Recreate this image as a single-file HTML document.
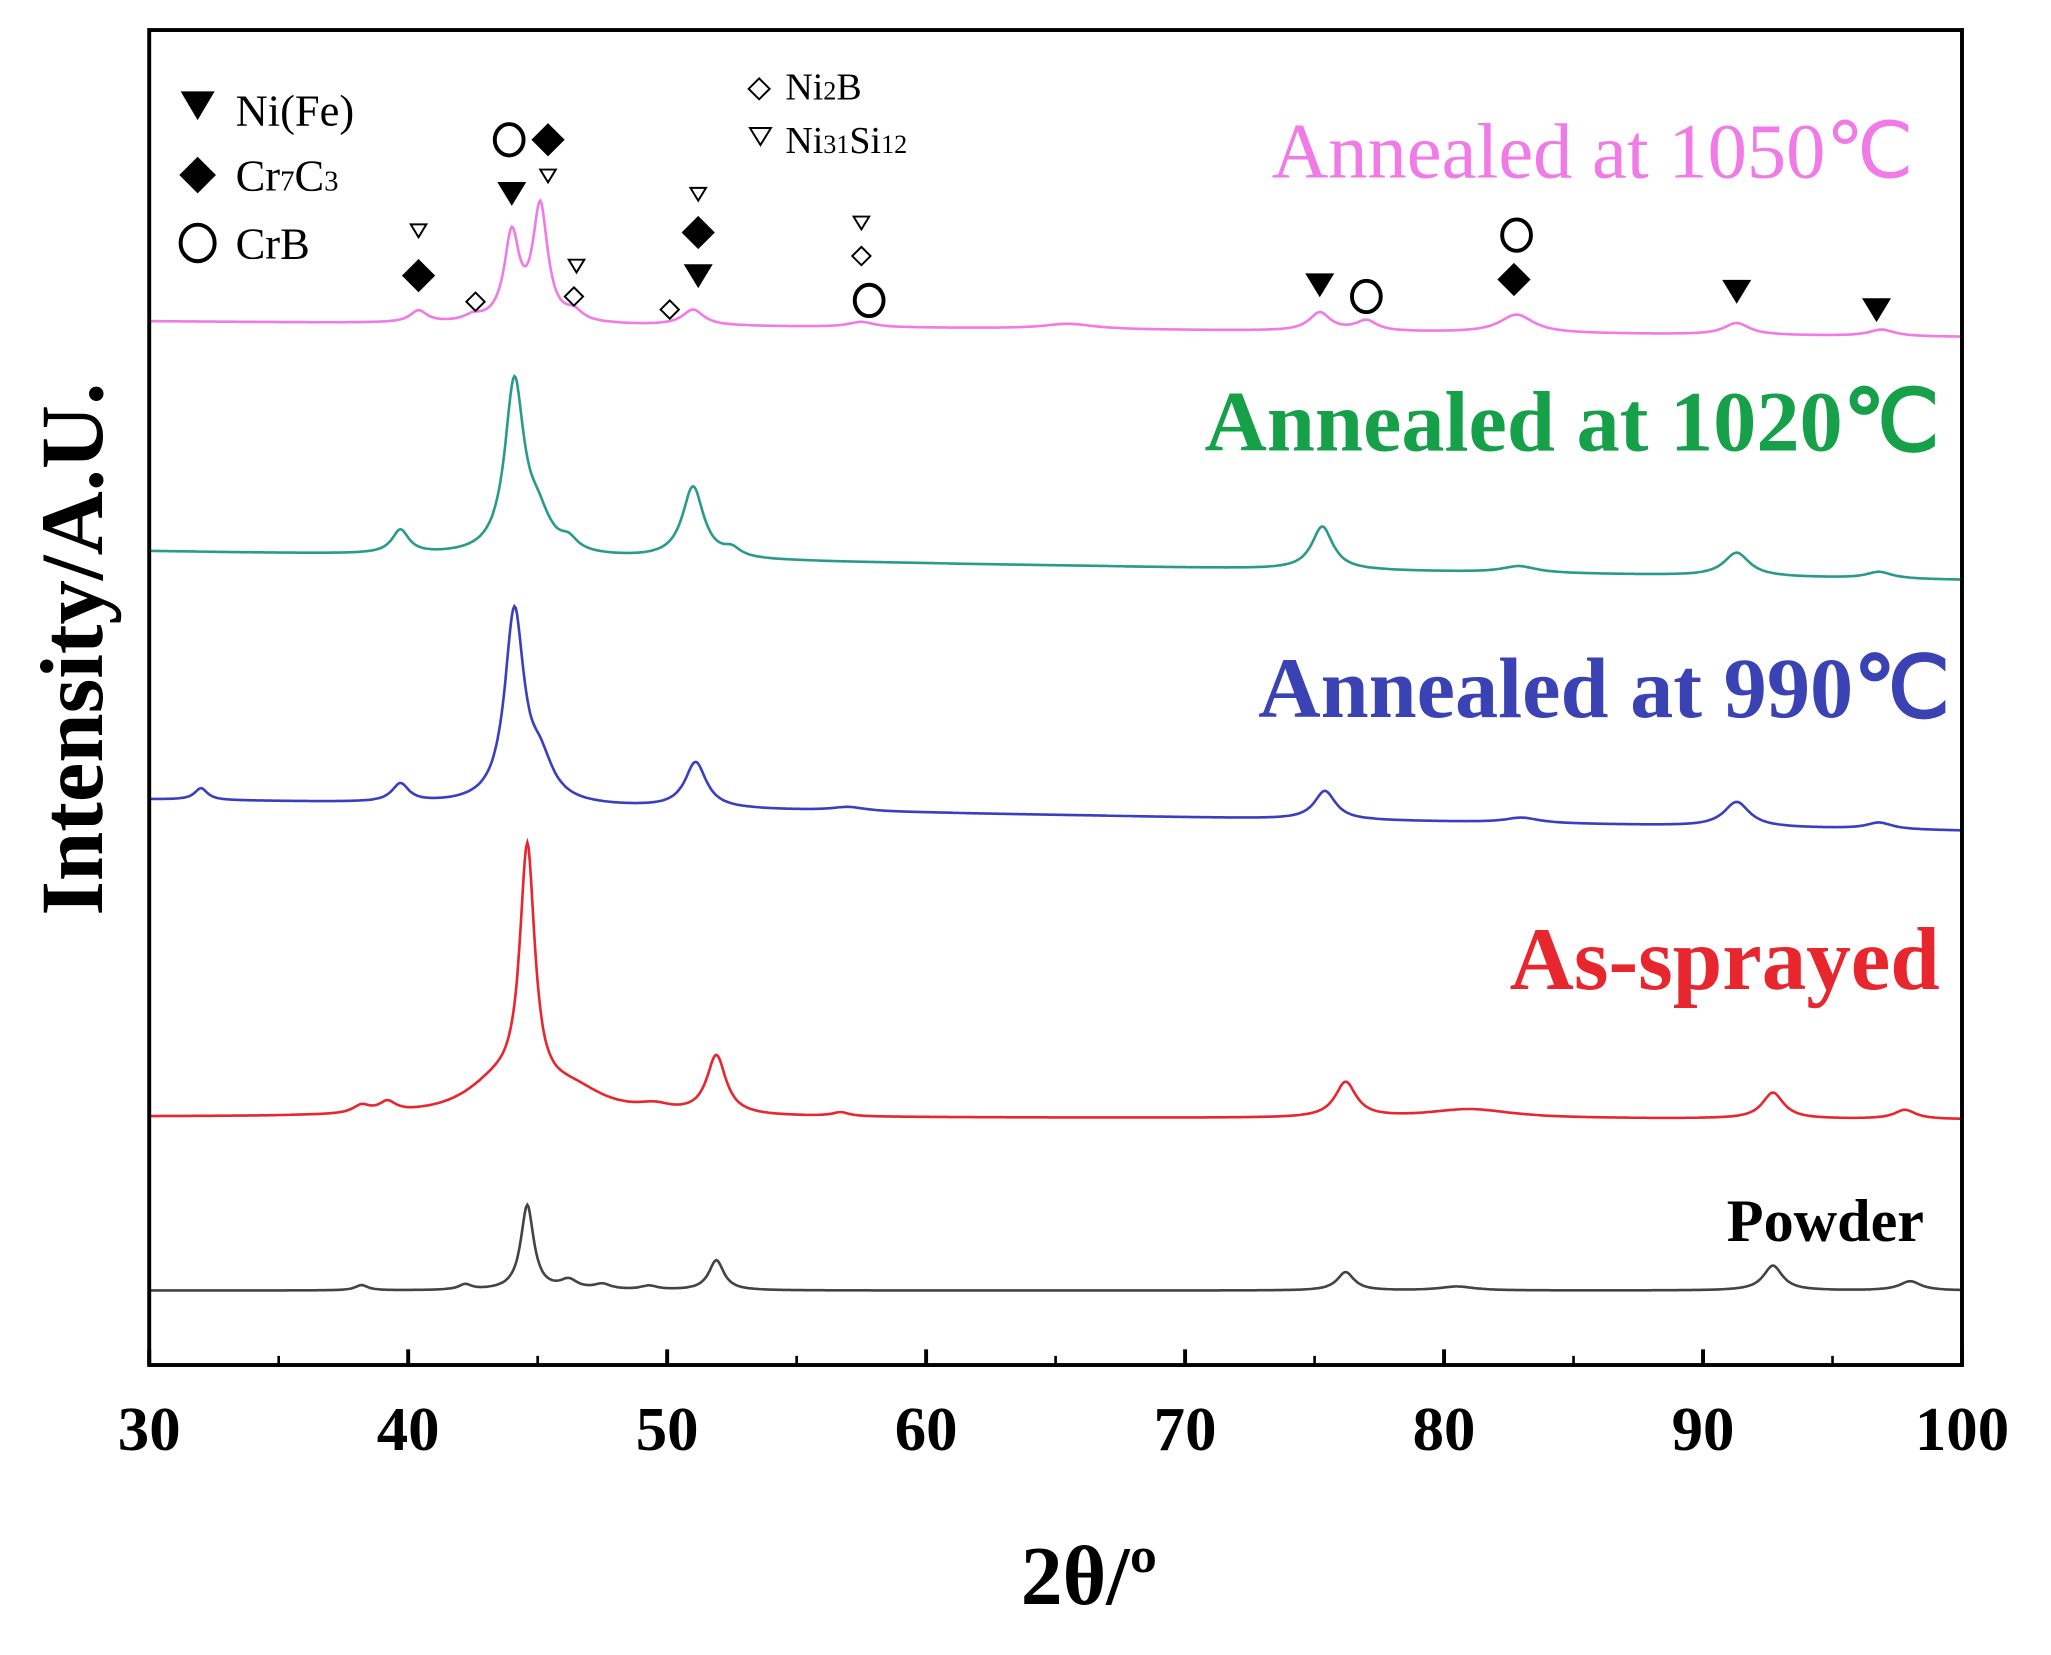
<!DOCTYPE html>
<html><head><meta charset="utf-8"><style>
html,body{margin:0;padding:0;background:#fff;}
svg{display:block;}
text{font-family:"Liberation Serif",serif;}
</style></head><body>
<svg id="chart" width="2051" height="1655" viewBox="0 0 1567 1267" preserveAspectRatio="none" xmlns="http://www.w3.org/2000/svg">
<rect width="1567" height="1267" fill="#fff"/>
<g id="series"></g>
<rect x="114" y="23" width="1385" height="1022" fill="none" stroke="#000" stroke-width="3"/>
<g id="ticks"></g>
<text transform="translate(78,497) rotate(-90)" text-anchor="middle" font-size="68" font-weight="bold">Intensity/A.U.</text>
<text x="832" y="1228" text-anchor="middle" font-size="64" font-weight="bold">2θ/º</text>

<g font-size="34">
<polygon points="138,70 164,70 151,92" fill="#000"/><text x="180" y="96">Ni(Fe)</text>
<polygon points="151,120 165,134 151,148 137,134" fill="#000"/><text x="180" y="146">Cr<tspan font-size="22">7</tspan>C<tspan font-size="22">3</tspan></text>
<ellipse cx="151" cy="186" rx="13" ry="14" fill="none" stroke="#000" stroke-width="3"/><text x="180" y="198">CrB</text>
<polygon points="580,60 588,68 580,76 572,68" fill="none" stroke="#000" stroke-width="1.5"/><text x="600" y="76" font-size="29">Ni<tspan font-size="20">2</tspan>B</text>
<polygon points="573,98 589,98 581,111" fill="none" stroke="#000" stroke-width="1.5"/><text x="600" y="117" font-size="29">Ni<tspan font-size="20">31</tspan>Si<tspan font-size="20">12</tspan></text>
</g>

<g text-anchor="end">
<text x="1462" y="136" font-size="60" fill="#f07ae6">Annealed at 1050℃</text>
<text x="1482" y="345" font-size="66" font-weight="bold" fill="#17a04a">Annealed at 1020℃</text>
<text x="1490" y="549" font-size="66" font-weight="bold" fill="#3b43b4">Annealed at 990℃</text>
<text x="1482" y="757" font-size="68" font-weight="bold" fill="#e8262e">As-sprayed</text>
<text x="1470" y="950" font-size="46" font-weight="bold" fill="#000">Powder</text>
</g>
<g id="markers"></g>

<script>
const xMin = 30, xMax = 100;
const xTicks = [30,40,50,60,70,80,90,100];
const minorTicks = [35,45,55,65,75,85,95];
function X(v){ return 114 + (v - xMin) / (xMax - xMin) * 1385; }

const p1050Base = [246, 258];
const p1050Pos = [40.4, 42.5, 44.0, 45.1, 46.4, 51.0, 57.5, 65.5, 75.2, 77.0, 82.8, 91.3, 96.9];
const p1050H   = [9, 4, 66, 88, 7, 12, 4, 4, 14, 8, 14, 9, 5];
const p1050W   = [0.4, 0.4, 0.35, 0.35, 0.4, 0.5, 0.6, 1.2, 0.5, 0.5, 0.8, 0.6, 0.6];

const p1020Base = [422, 444];
const p1020Pos = [39.7, 44.1, 45.0, 46.2, 51.0, 52.5, 75.3, 82.9, 91.3, 96.8];
const p1020H   = [18, 130, 25, 8, 55, 6, 33, 5, 18, 5];
const p1020W   = [0.4, 0.45, 0.6, 0.4, 0.5, 0.4, 0.5, 0.8, 0.6, 0.6];

const p990Base = [612, 636];
const p990Pos = [32.0, 39.7, 44.1, 45.1, 51.1, 57.0, 75.4, 83.0, 91.3, 96.8];
const p990H   = [9, 14, 145, 28, 35, 3, 22, 4, 19, 5];
const p990W   = [0.3, 0.4, 0.45, 0.6, 0.5, 0.8, 0.5, 0.8, 0.6, 0.6];

const pASBase = [855, 857];
const pASPos = [38.2, 39.2, 43.4, 44.6, 46.3, 49.5, 51.9, 56.7, 76.2, 81.0, 92.7, 97.8];
const pASH   = [6, 8, 22, 188, 18, 5, 45, 3, 27, 7, 20, 7];
const pASW   = [0.4, 0.4, 1.5, 0.35, 1.6, 0.8, 0.45, 0.4, 0.5, 2.0, 0.5, 0.5];

const pPWBase = [988, 988];
const pPWPos = [38.2, 42.2, 44.6, 46.2, 47.5, 49.3, 51.9, 76.2, 80.5, 92.7, 98.0];
const pPWH   = [4, 4, 65, 7, 4, 3, 23, 14, 3, 19, 7];
const pPWW   = [0.3, 0.3, 0.3, 0.4, 0.4, 0.4, 0.35, 0.4, 0.8, 0.45, 0.5];

const NS = "http://www.w3.org/2000/svg";
const seriesG = document.getElementById('series');
function curve(base, pos, h, w){
  let d = '';
  for (let v = xMin; v <= xMax + 1e-9; v += 0.05){
    let y = base[0] + (base[1]-base[0]) * (v - xMin)/(xMax - xMin);
    for (let i = 0; i < pos.length; i++){
      const t = (v - pos[i]) / w[i];
      y -= h[i] / (1 + t*t);
    }
    d += (d ? 'L' : 'M') + X(v).toFixed(1) + ',' + y.toFixed(1);
  }
  return d;
}
const series = [
  ['trace-1050', '#f07ae6', p1050Base, p1050Pos, p1050H, p1050W],
  ['trace-1020', '#2a9a8c', p1020Base, p1020Pos, p1020H, p1020W],
  ['trace-990', '#3a3fc0', p990Base, p990Pos, p990H, p990W],
  ['trace-as-sprayed', '#e8262e', pASBase, pASPos, pASH, pASW],
  ['trace-powder', '#444', pPWBase, pPWPos, pPWH, pPWW]
];
series.forEach(s => {
  const p = document.createElementNS(NS, 'path');
  p.setAttribute('d', curve(s[2], s[3], s[4], s[5]));
  p.setAttribute('fill', 'none');
  p.setAttribute('stroke', s[1]);
  p.setAttribute('stroke-width', '2');
  
  
  seriesG.appendChild(p);
});

const tg = document.getElementById('ticks');
xTicks.forEach(v => {
  const l = document.createElementNS(NS, 'line');
  l.setAttribute('x1', X(v)); l.setAttribute('x2', X(v));
  l.setAttribute('y1', 1045); l.setAttribute('y2', 1033);
  l.setAttribute('stroke', '#000'); l.setAttribute('stroke-width', '3');
  
  
  tg.appendChild(l);
  const t = document.createElementNS(NS, 'text');
  t.setAttribute('x', X(v)); t.setAttribute('y', 1110);
  t.setAttribute('text-anchor', 'middle');
  t.setAttribute('font-size', '48'); t.setAttribute('font-weight', 'bold');
  t.textContent = v;
  
  
  tg.appendChild(t);
});
minorTicks.forEach(v => {
  const l = document.createElementNS(NS, 'line');
  l.setAttribute('x1', X(v)); l.setAttribute('x2', X(v));
  l.setAttribute('y1', 1045); l.setAttribute('y2', 1038);
  l.setAttribute('stroke', '#000'); l.setAttribute('stroke-width', '2');
  
  
  tg.appendChild(l);
});

const markers = [
  ['tri', 40.4, 176, 'o'], ['dia', 40.4, 211, 'f'], ['dia', 42.6, 231, 'o'],
  ['tri', 44.0, 147, 'f'], ['circ', 43.9, 107, 'o'], ['dia', 45.4, 107, 'f'], ['tri', 45.4, 134, 'o'],
  ['tri', 46.5, 203, 'o'], ['dia', 46.4, 227, 'o'],
  ['tri', 51.2, 148, 'o'], ['dia', 51.2, 178, 'f'], ['tri', 51.2, 210, 'f'], ['dia', 50.1, 237, 'o'],
  ['tri', 57.5, 170, 'o'], ['dia', 57.5, 196, 'o'], ['circ', 57.8, 230, 'o'],
  ['tri', 75.2, 217, 'f'], ['circ', 77.0, 227, 'o'],
  ['circ', 82.8, 180, 'o'], ['dia', 82.7, 214, 'f'],
  ['tri', 91.3, 222, 'f'], ['tri', 96.7, 236, 'f']
];
const mg = document.getElementById('markers');
markers.forEach(m => {
  const x = X(m[1]), y = m[2], f = m[3] === 'f';
  let el;
  if (m[0] === 'circ'){
    el = document.createElementNS(NS, 'ellipse');
    el.setAttribute('cx', x); el.setAttribute('cy', y);
    el.setAttribute('rx', 11); el.setAttribute('ry', 12);
    el.setAttribute('fill', 'none'); el.setAttribute('stroke', '#000'); el.setAttribute('stroke-width', '3');
  } else {
    el = document.createElementNS(NS, 'polygon');
    const s = f ? 12 : 7;
    let pts;
    if (m[0] === 'tri') pts = [[x-s*0.85,y-s*0.6],[x+s*0.85,y-s*0.6],[x,y+s*0.8]];
    else pts = [[x,y-s],[x+s,y],[x,y+s],[x-s,y]];
    el.setAttribute('points', pts.map(p => p.join(',')).join(' '));
    el.setAttribute('fill', f ? '#000' : 'none');
    el.setAttribute('stroke', '#000'); el.setAttribute('stroke-width', f ? '1' : '1.5');
  }
  
  
  mg.appendChild(el);
});
</script>
</svg>
</body></html>
